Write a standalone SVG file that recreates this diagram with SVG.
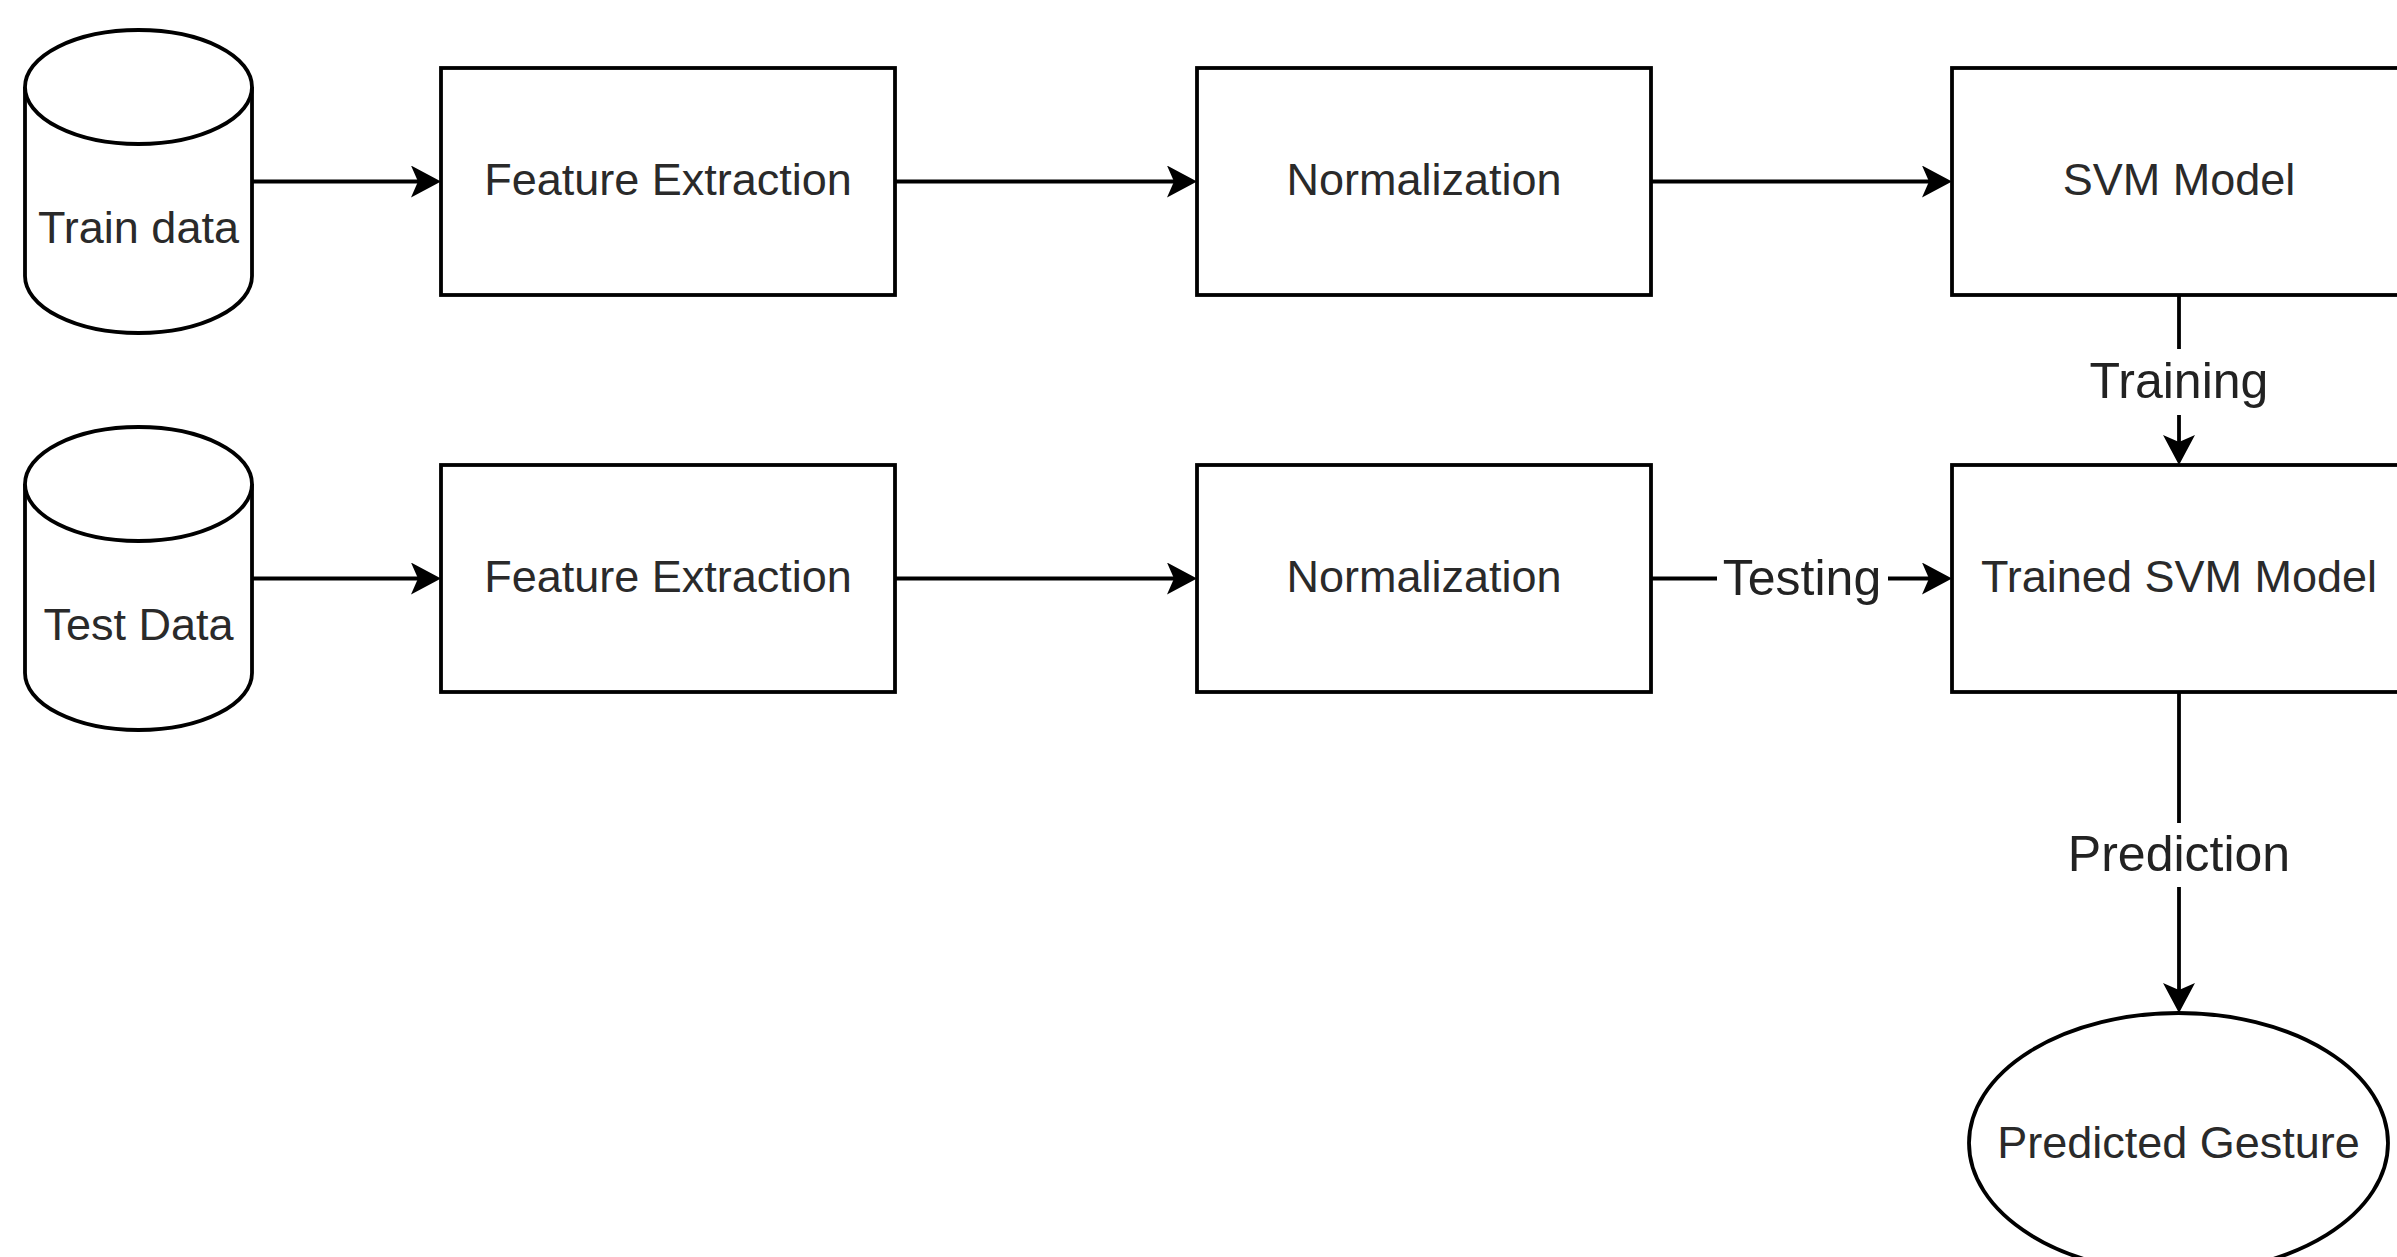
<svg xmlns="http://www.w3.org/2000/svg" width="2397" height="1257" viewBox="0 0 2397 1257">
<style>
.shape{fill:#fff;stroke:#000;stroke-width:3.8}
.t{font-family:"Liberation Sans",Arial,sans-serif;font-size:45px;fill:#2a2a2a;text-anchor:middle}
.lbl{font-family:"Liberation Sans",Arial,sans-serif;font-size:50px;fill:#222;text-anchor:middle}
.edge{fill:none;stroke:#000;stroke-width:3.8;marker-end:url(#arr)}
.bg{fill:#fff;stroke:none}
</style>
<defs>
<marker id="arr" markerUnits="userSpaceOnUse" markerWidth="30" markerHeight="32" viewBox="0 0 30 32" refX="23" refY="16" orient="auto">
<path d="M0,0 L30,16 L0,32 L7,16 Z" fill="#000"/>
</marker>
</defs>
<rect width="2397" height="1257" fill="#fff"/>

<g id="connectors">
<line class="edge" x1="252" y1="181.5" x2="434" y2="181.5"/>
<line class="edge" x1="895" y1="181.5" x2="1190" y2="181.5"/>
<line class="edge" x1="1651" y1="181.5" x2="1945" y2="181.5"/>
<line class="edge" x1="252" y1="578.5" x2="434" y2="578.5"/>
<line class="edge" x1="895" y1="578.5" x2="1190" y2="578.5"/>
<line class="edge" x1="1651" y1="578.5" x2="1945" y2="578.5"/>
<line class="edge" x1="2179" y1="295" x2="2179" y2="458"/>
<line class="edge" x1="2179" y1="692" x2="2179" y2="1006"/>
<rect class="bg" x="2085" y="349" width="188" height="66"/>
<text class="lbl" x="2179" y="398">Training</text>
<rect class="bg" x="1717" y="546" width="171" height="65"/>
<text class="lbl" x="1802" y="595">Testing</text>
<rect class="bg" x="2061" y="823" width="236" height="64"/>
<text class="lbl" x="2179" y="871">Prediction</text>
</g>

<g id="train-data">
<path class="shape" d="M25,87 A113.5,57 0 0 1 252,87 L252,276 A113.5,57 0 0 1 25,276 Z"/>
<path class="shape" fill="none" d="M25,87 A113.5,57 0 0 0 252,87"/>
<text class="t" x="138.5" y="243">Train data</text>
</g>
<g id="feature-extraction-1">
<rect class="shape" x="441" y="68" width="454" height="227"/>
<text class="t" x="668" y="195">Feature Extraction</text>
</g>
<g id="normalization-1">
<rect class="shape" x="1197" y="68" width="454" height="227"/>
<text class="t" x="1424" y="195">Normalization</text>
</g>
<g id="svm-model">
<rect class="shape" x="1952" y="68" width="454" height="227"/>
<text class="t" x="2179" y="195">SVM Model</text>
</g>

<g id="test-data">
<path class="shape" d="M25,484 A113.5,57 0 0 1 252,484 L252,673 A113.5,57 0 0 1 25,673 Z"/>
<path class="shape" fill="none" d="M25,484 A113.5,57 0 0 0 252,484"/>
<text class="t" x="138.5" y="640">Test Data</text>
</g>
<g id="feature-extraction-2">
<rect class="shape" x="441" y="465" width="454" height="227"/>
<text class="t" x="668" y="592">Feature Extraction</text>
</g>
<g id="normalization-2">
<rect class="shape" x="1197" y="465" width="454" height="227"/>
<text class="t" x="1424" y="592">Normalization</text>
</g>
<g id="trained-svm-model">
<rect class="shape" x="1952" y="465" width="454" height="227"/>
<text class="t" x="2179" y="592">Trained SVM Model</text>
</g>

<g id="predicted-gesture">
<ellipse class="shape" cx="2178.5" cy="1143" rx="209.5" ry="130"/>
<text class="t" x="2178.5" y="1158">Predicted Gesture</text>
</g>
</svg>
